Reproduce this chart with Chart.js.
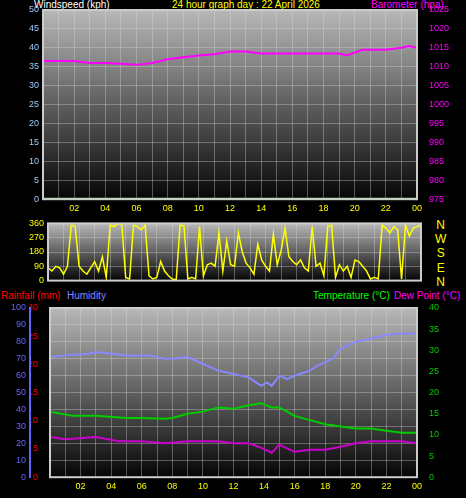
<!DOCTYPE html>
<html><head><meta charset="utf-8">
<script src="https://cdn.jsdelivr.net/npm/chart.js@4.4.1/dist/chart.umd.min.js"></script>
<style>
body{margin:0;background:#000;width:466px;height:498px;overflow:hidden;font-family:"Liberation Sans",Arial,sans-serif}
.c{position:absolute;left:0;width:466px}
.t{position:absolute;font-size:10px;white-space:nowrap;line-height:11px}
</style></head><body>
<div class="t" style="left:34px;top:-1px;color:#fff">Windspeed (kph)</div>
<div class="t" style="left:172px;top:-1px;color:#ff0">24 hour graph day : 22 April 2026</div>
<div class="t" style="left:371px;top:-1px;color:#f0f">Barometer (hpa)</div>
<div class="t" style="left:435px;top:218px;color:#ff0;font-size:12px;line-height:14.2px;text-align:center">N<br>W<br>S<br>E<br>N</div>
<div class="t" style="left:1px;top:290px;color:#f00">Rainfall (mm)</div>
<div class="t" style="left:67px;top:290px;color:#88f">Humidity</div>
<div class="t" style="left:313px;top:290px;color:#0f0">Temperature (°C)</div>
<div class="t" style="left:394px;top:290px;color:#f0f">Dew Point (°C)</div>
<div class="c" style="top:0;height:218px"><canvas id="c1"></canvas></div>
<div class="c" style="top:214px;height:76px"><canvas id="c2"></canvas></div>
<div class="c" style="top:296px;height:202px"><canvas id="c3"></canvas></div>
<script>
const windSpeed=[[0,0],[24,0]];
const baroHours=[0,2,3,4,5,6,7,8,9,10,11,12,13,14,15,16,17,18,19,19.5,20.5,21,22,23,23.5,24];
const baroVals=[1011.5,1011.5,1011,1011,1010.8,1010.5,1011,1012,1012.5,1013,1013.3,1014,1014,1013.5,1013.5,1013.5,1013.5,1013.5,1013.5,1013,1014.5,1014.5,1014.5,1015,1015.5,1015];
const dirVals=[80,60,90,80,40,90,350,340,90,60,40,80,120,60,150,20,350,340,360,350,20,10,350,340,320,350,30,10,20,120,60,30,10,5,350,345,10,20,10,340,30,100,110,90,300,60,250,100,90,300,180,110,80,40,230,130,90,60,290,100,190,330,150,120,100,130,80,60,340,90,110,30,340,350,20,100,60,90,20,130,120,90,60,10,20,10,350,330,300,340,320,10,350,280,330,340,350];
const humHours=[0,1,2.5,3,4,5,6.5,7.5,8,9,10,11,12,13,13.8,14.2,14.5,15,15.5,16,17,17.5,18.5,19,20,21,22,23,24];
const humVals=[71,72,73,74,73,72,72,70,70,71,67,63,61,59,54,56,54,60,58,60,63,66,70,76,80,82,84,85,85];
const tempHours=[0,1.5,3,5,6,7.5,8,9,10,11,12,13,13.8,14.5,15,16,17,18,19,20,21,22,23,24];
const tempVals=[15.5,14.5,14.5,14,14,13.8,14,15,15.5,16.5,16.2,17,17.5,16.5,16.5,14.5,13.5,12.5,12,11.5,11.5,11,10.5,10.5];
const dewHours=[0,1,3,4.5,6,7.5,9,11,12,13,13.8,14.5,15,15.5,16,17,18,19,20,21,22,23,24];
const dewVals=[9.5,9,9.5,8.5,8.5,8,8.5,8.5,8,8,7,5.8,7.7,6.8,6,6.5,6.5,7.2,8,8.5,8.5,8.5,8];
const rainHours=[0,18.2,18.5,19,20.5,21,22,22.5,23.5,23.9,24];
const rainVals=[0,0,0.5,1,1,1.5,2,3,4,4.5,0];
const rainMarkHours=[6.75,20.3];
const rainMarkHeight=3.5;
const xyz=(xs,ys)=>xs.map((x,i)=>({x,y:ys[i]}));

const bg={id:'bg',beforeDraw(c){const a=c.chartArea,x=c.ctx;const g=x.createLinearGradient(0,a.top,0,a.bottom);g.addColorStop(0,'#b8b8b8');g.addColorStop(1,'#050505');x.save();x.fillStyle=g;x.fillRect(a.left,a.top,a.right-a.left,a.bottom-a.top);x.restore();},
afterDraw(c){const a=c.chartArea,x=c.ctx;x.save();x.strokeStyle='#ccc';x.lineWidth=2;x.strokeRect(a.left,a.top,a.right-a.left,a.bottom-a.top);x.restore();}};
const F={family:'"Liberation Sans",Arial',size:9};
const grid={color:'rgba(220,220,220,0.35)',drawTicks:false,lineWidth:1};
function xAxis(show){return {type:'linear',min:0,max:24,afterBuildTicks(s){s.ticks=[];for(let i=0;i<=24;i++)s.ticks.push({value:i});},
 grid:{...grid,borderDash:[2,2]},border:{display:false},
 ticks:{display:show,color:'#ff0',font:F,autoSkip:false,maxRotation:0,padding:4,callback:v=>(v%2===0&&v>0)?String(v%24).padStart(2,'0'):''}};}
function yAx(pos,min,max,step,col,w,opts={}){return Object.assign({position:pos,min,max,afterFit(s){s.width=w},ticks:{stepSize:step,color:col,font:F,padding:4,callback:v=>String(v)},grid:{display:false},border:{color:col,width:2}},opts);}
Chart.defaults.animation=false;Chart.defaults.responsive=true;Chart.defaults.maintainAspectRatio=false;
const noLeg={legend:{display:false},tooltip:{enabled:false}};
const ln=(data,col,axis,w=2)=>({data,borderColor:col,borderWidth:w,pointRadius:0,yAxisID:axis,tension:0});

new Chart(c1,{type:'line',data:{datasets:[ln(windSpeed.map(p=>({x:p[0],y:p[1]})),'#90ee90','y',3),ln(xyz(baroHours,baroVals),'#f0f','y2')]},
options:{plugins:noLeg,layout:{padding:{top:10,bottom:0}},scales:{x:xAxis(true),
 y:yAx('left',0,50,5,'#9cf',43,{grid:{...grid,borderDash:[2,2]}}),y2:yAx('right',975,1025,5,'#f0f',49)}},plugins:[bg]});

new Chart(c2,{type:'line',data:{datasets:[ln(dirVals.map((v,i)=>({x:i*24/(dirVals.length-1),y:v})),'#ff0','y',1.5)]},
options:{plugins:noLeg,layout:{padding:{top:8,bottom:8,right:45}},scales:{x:xAxis(false),
 y:yAx('left',0,360,90,'#ff0',48,{grid:{...grid,borderDash:[2,2]},border:{display:false}})}},plugins:[bg]});

const marks=rainMarkHours.map(h=>ln([{x:h,y:0},{x:h,y:rainMarkHeight}],'#cc0','r',2));
new Chart(c3,{type:'line',data:{datasets:[
 ln(xyz(humHours,humVals),'#88f','h'),ln(xyz(tempHours,tempVals),'#0c0','t'),ln(xyz(dewHours,dewVals),'#c0c','t'),
 ...marks,ln(xyz(rainHours,rainVals),'#f00','r',3)]},
options:{plugins:noLeg,layout:{padding:{top:12,bottom:2}},scales:{x:xAxis(true),
 r:yAx('left',0,30,5,'#f00',20),h:yAx('left',0,100,10,'#66f',30,{grid:{...grid,borderDash:[2,2]}}),t:yAx('right',0,40,5,'#0c0',49)}},plugins:[bg]});
</script></body></html>
